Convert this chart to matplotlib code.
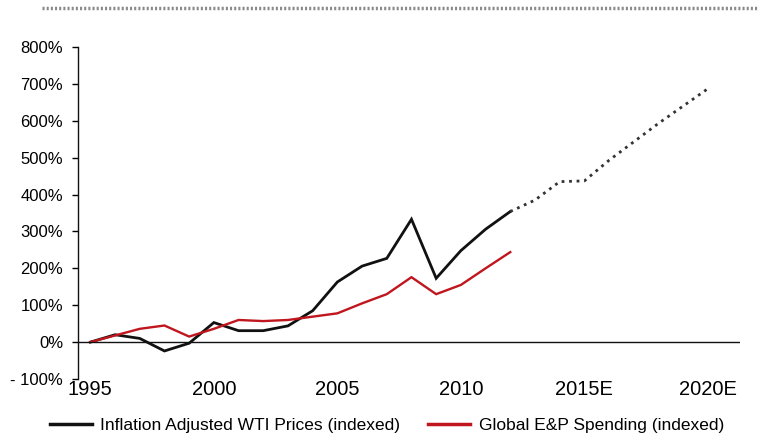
import matplotlib.pyplot as plt
from matplotlib.lines import Line2D

plt.rcParams['font.family'] = ['Liberation Sans', 'DejaVu Sans']

# Historical values, percent change indexed to 1995
years = list(range(1995, 2013))
wti = [0, 20, 10, -24, -3, 53, 31, 31, 44, 85, 163, 206, 227, 333, 173, 248, 306, 354]
enp = [0, 18, 36, 45, 15, 36, 60, 57, 60, 69, 78, 105, 130, 176, 130, 155, 200, 244]

# Projected WTI (dotted)
proj_years = list(range(2012, 2021))
wti_proj = [354, 385, 435, 437, 493, 543, 593, 640, 687]

xtick_years = [1995, 2000, 2005, 2010, 2015, 2020]
xtick_labels = ['1995', '2000', '2005', '2010', '2015E', '2020E']
ytick_vals = [-100, 0, 100, 200, 300, 400, 500, 600, 700, 800]
ytick_labels = ['- 100%', '0%', '100%', '200%', '300%', '400%', '500%', '600%', '700%', '800%']

black = '#111111'
red = '#c0161e'

fig = plt.figure(figsize=(7.63, 4.34), dpi=100)
ax = fig.add_axes([78 / 763, 55 / 434, 662 / 763, 332 / 434])

ax.plot(years, wti, color=black, lw=2, solid_joinstyle='miter')
ax.plot(years, enp, color=red, lw=1.7, solid_joinstyle='miter')
ax.plot(proj_years, wti_proj, color='#333333', lw=2, linestyle=(0, (1, 1.7)))

ax.axhline(0, color=black, lw=1)
ax.set_xlim(1994.5, 2021.3)
ax.set_ylim(-100, 800)

for s in ['top', 'right', 'bottom']:
    ax.spines[s].set_visible(False)
ax.spines['left'].set_color(black)
ax.spines['left'].set_linewidth(1)

ax.set_yticks(ytick_vals)
ax.set_yticklabels(ytick_labels, fontsize=12)
ax.tick_params(axis='y', length=4.3, width=1, direction='out', pad=6.5)
ax.set_xticks(xtick_years)
ax.set_xticklabels(xtick_labels, fontsize=14.5)
ax.tick_params(axis='x', length=0, pad=1)

# dotted separator along the top
fig.add_artist(Line2D([42 / 763, 757 / 763], [1 - 8 / 434, 1 - 8 / 434],
                      transform=fig.transFigure, color='#8a8a8a', lw=2.5,
                      linestyle=(0, (0.6, 0.6))))

handles = [Line2D([], [], color=black, lw=2.5),
           Line2D([], [], color=red, lw=2.5)]
fig.legend(handles, ['Inflation Adjusted WTI Prices (indexed)', 'Global E&P Spending (indexed)'],
           loc='center', bbox_to_anchor=(387 / 763, 9 / 434), ncol=2, frameon=False,
           fontsize=12.5, handlelength=2.4, handletextpad=0.5, columnspacing=1.6)

fig.savefig('out.png', dpi=100)
